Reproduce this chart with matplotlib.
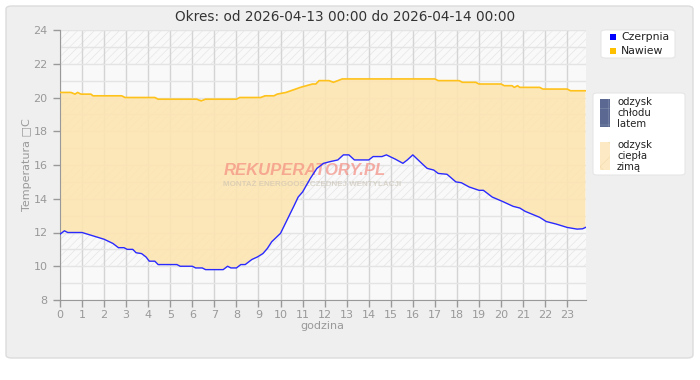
import matplotlib
matplotlib.use("Agg")
import matplotlib.pyplot as plt
from matplotlib.patches import FancyBboxPatch, Rectangle

# hour of day, supply air (nawiew)
nawiew_h = [0, 0.5, 0.68, 0.8, 0.95, 1.4, 1.5, 2.8, 2.95, 4.3, 4.45, 6.2, 6.4, 6.6,
            8.0, 8.15, 9.1, 9.3, 9.7, 9.85, 10.25, 10.9, 11.45, 11.6, 11.75, 12.2,
            12.4, 12.8, 17.0, 17.15, 18.1, 18.25, 18.85, 19.0, 20.0, 20.15, 20.5,
            20.6, 20.75, 20.85, 21.75, 21.9, 23.0, 23.15, 23.83]
nawiew_t = [20.3, 20.3, 20.2, 20.3, 20.2, 20.2, 20.1, 20.1, 20.0, 20.0, 19.9, 19.9,
            19.8, 19.9, 19.9, 20.0, 20.0, 20.1, 20.1, 20.2, 20.3, 20.6, 20.8, 20.8,
            21.0, 21.0, 20.9, 21.1, 21.1, 21.0, 21.0, 20.9, 20.9, 20.8, 20.8, 20.7,
            20.7, 20.6, 20.7, 20.6, 20.6, 20.5, 20.5, 20.4, 20.4]

# hour of day, outdoor intake (czerpnia)
czerpnia_h = [0, 0.2, 0.35, 1.0, 1.5, 2.0, 2.4, 2.65, 2.9, 3.05, 3.3, 3.45, 3.7, 3.9,
              4.05, 4.3, 4.45, 5.3, 5.45, 6.0, 6.15, 6.45, 6.6, 7.4, 7.6, 7.75, 8.0,
              8.2, 8.4, 8.7, 8.95, 9.2, 9.4, 9.6, 9.8, 10.0, 10.3, 10.6, 10.8, 11.0,
              11.35, 11.65, 11.95, 12.25, 12.6, 12.85, 13.1, 13.35, 14.0, 14.2, 14.6,
              14.8, 15.2, 15.55, 15.75, 16.0, 16.4, 16.65, 16.95, 17.15, 17.55, 17.95,
              18.2, 18.55, 19.0, 19.2, 19.6, 20.05, 20.55, 20.85, 21.1, 21.75, 22.05,
              22.5, 23.0, 23.45, 23.7, 23.83]
czerpnia_t = [11.9, 12.1, 12.0, 12.0, 11.8, 11.6, 11.35, 11.1, 11.1, 11.0, 11.0, 10.8,
              10.75, 10.55, 10.3, 10.3, 10.1, 10.1, 10.0, 10.0, 9.9, 9.9, 9.8, 9.8,
              10.0, 9.9, 9.9, 10.1, 10.1, 10.4, 10.55, 10.75, 11.05, 11.45, 11.7,
              11.95, 12.75, 13.55, 14.1, 14.4, 15.2, 15.8, 16.1, 16.2, 16.3, 16.6,
              16.6, 16.3, 16.3, 16.5, 16.5, 16.6, 16.35, 16.1, 16.3, 16.6, 16.1, 15.8,
              15.7, 15.5, 15.45, 15.0, 14.95, 14.7, 14.5, 14.5, 14.1, 13.85, 13.55,
              13.45, 13.25, 12.9, 12.65, 12.5, 12.3, 12.2, 12.22, 12.3]

x_ticks = list(range(0, 24))
y_ticks = [8, 10, 12, 14, 16, 18, 20, 22, 24]
hatch_bands = [(10, 12), (14, 16), (18, 20), (22, 24)]

W, H = 700, 380


def fx(x):
    return x / W


def fy(y):
    return 1 - y / H


def main():
    plt.rcParams.update({
        "font.family": "DejaVu Sans",
        "hatch.linewidth": 0.5,
        "hatch.color": "#e4e4e4",
    })
    fig = plt.figure(figsize=(7, 3.8), dpi=100)
    fig.patch.set_facecolor("white")

    # grey panel behind everything
    panel = FancyBboxPatch((fx(6), fy(358)), fx(687), 352 / H,
                           boxstyle="round,pad=0,rounding_size=0.008",
                           transform=fig.transFigure, facecolor="#efefef",
                           edgecolor="#dcdcdc", linewidth=1, zorder=-5)
    fig.patches.append(panel)

    ax = fig.add_axes([fx(60), fy(300), fx(525.5), 270 / H], zorder=2)
    ax.set_facecolor("#f9f9f9")
    for lo, hi in hatch_bands:
        ax.axhspan(lo, hi, facecolor="none", hatch="////", edgecolor="#e6e6e6",
                   linewidth=0, zorder=0.2)

    ax.set_xlim(0, 23.83)
    ax.set_ylim(8, 24)
    ax.set_xticks(x_ticks)
    ax.set_yticks(y_ticks)
    ax.set_yticks(range(9, 24, 2), minor=True)
    ax.grid(axis="x", color="#d4d4d4", linewidth=1)
    ax.grid(axis="y", which="both", color="#e4e4e4", linewidth=1)
    ax.tick_params(axis="y", which="minor", length=0)
    ax.set_axisbelow(True)

    # area between supply and intake
    poly_x = nawiew_h + czerpnia_h[::-1]
    poly_y = nawiew_t + czerpnia_t[::-1]
    ax.fill(poly_x, poly_y, color="#fde5b2", alpha=0.9, linewidth=0, zorder=2)
    ax.plot(nawiew_h, nawiew_t, color="#ffc21a", linewidth=1.2, zorder=4)
    ax.plot(czerpnia_h, czerpnia_t, color="#2a2aff", linewidth=1.0, zorder=4)

    for side in ["top", "right"]:
        ax.spines[side].set_visible(False)
    for side in ["left", "bottom"]:
        ax.spines[side].set_color("#999999")
    ax.tick_params(colors="#999999", labelsize=8, length=5, width=1)
    ax.tick_params(axis="y", pad=4)
    ax.tick_params(axis="x", pad=2)

    ax.set_xlabel("godzina", color="#999999", fontsize=8, labelpad=1)
    fig.text(fx(27), fy(165), "Temperatura \u25a1C", rotation=90, color="#999999",
             fontsize=8, ha="center", va="center")
    fig.text(fx(345), fy(17), "Okres: od 2026-04-13 00:00 do 2026-04-14 00:00",
             fontsize=9.8, color="#333333", ha="center", va="center")

    # watermark
    ax.text(0.311, 0.48, "REKUPERATORY.PL", transform=ax.transAxes,
            fontsize=12, fontweight="bold", style="italic", color="#f4867a",
            alpha=0.65, family="Liberation Sans", va="center", zorder=3)
    ax.text(0.311, 0.43, "MONTAŻ ENERGOOSZCZĘDNEJ WENTYLACJI", transform=ax.transAxes,
            fontsize=5.8, fontweight="bold", color="#c8c0b0", alpha=0.6,
            family="Liberation Sans", va="center", zorder=3)

    # legend box 1
    fig.patches.append(FancyBboxPatch((fx(601), fy(58)), fx(74), 28 / H,
                                      boxstyle="round,pad=0,rounding_size=0.006",
                                      transform=fig.transFigure, facecolor="white",
                                      edgecolor="#e6e6e6", linewidth=0.8))
    for yy, col, lab in [(37, "#0000ff", "Czerpnia"), (51, "#ffc000", "Nawiew")]:
        fig.patches.append(Rectangle((fx(610), fy(yy + 3)), fx(6), 6 / H,
                                     transform=fig.transFigure, facecolor=col,
                                     edgecolor="none"))
        fig.text(fx(621), fy(yy), lab, fontsize=7.8, color="#222222", va="center")

    # legend box 2
    fig.patches.append(FancyBboxPatch((fx(593), fy(175)), fx(92), 82 / H,
                                      boxstyle="round,pad=0,rounding_size=0.006",
                                      transform=fig.transFigure, facecolor="white",
                                      edgecolor="#e6e6e6", linewidth=0.8))
    fig.patches.append(Rectangle((fx(600), fy(127)), fx(10), 28 / H,
                                 transform=fig.transFigure, facecolor="#5b6992",
                                 edgecolor="#7a86a8", hatch="+", linewidth=0))
    fig.patches.append(Rectangle((fx(600), fy(170)), fx(10), 28 / H,
                                 transform=fig.transFigure, facecolor="#fde9c3",
                                 edgecolor="#f3dcb0", hatch="x", linewidth=0))
    fig.text(fx(617), fy(113), "odzysk\nchłodu\nlatem", fontsize=7.3, color="#222222",
             va="center", linespacing=1.12)
    fig.text(fx(617), fy(156), "odzysk\nciepła\nzimą", fontsize=7.3, color="#222222",
             va="center", linespacing=1.12)

    fig.savefig("out.png", dpi=100)


if __name__ == "__main__":
    main()
